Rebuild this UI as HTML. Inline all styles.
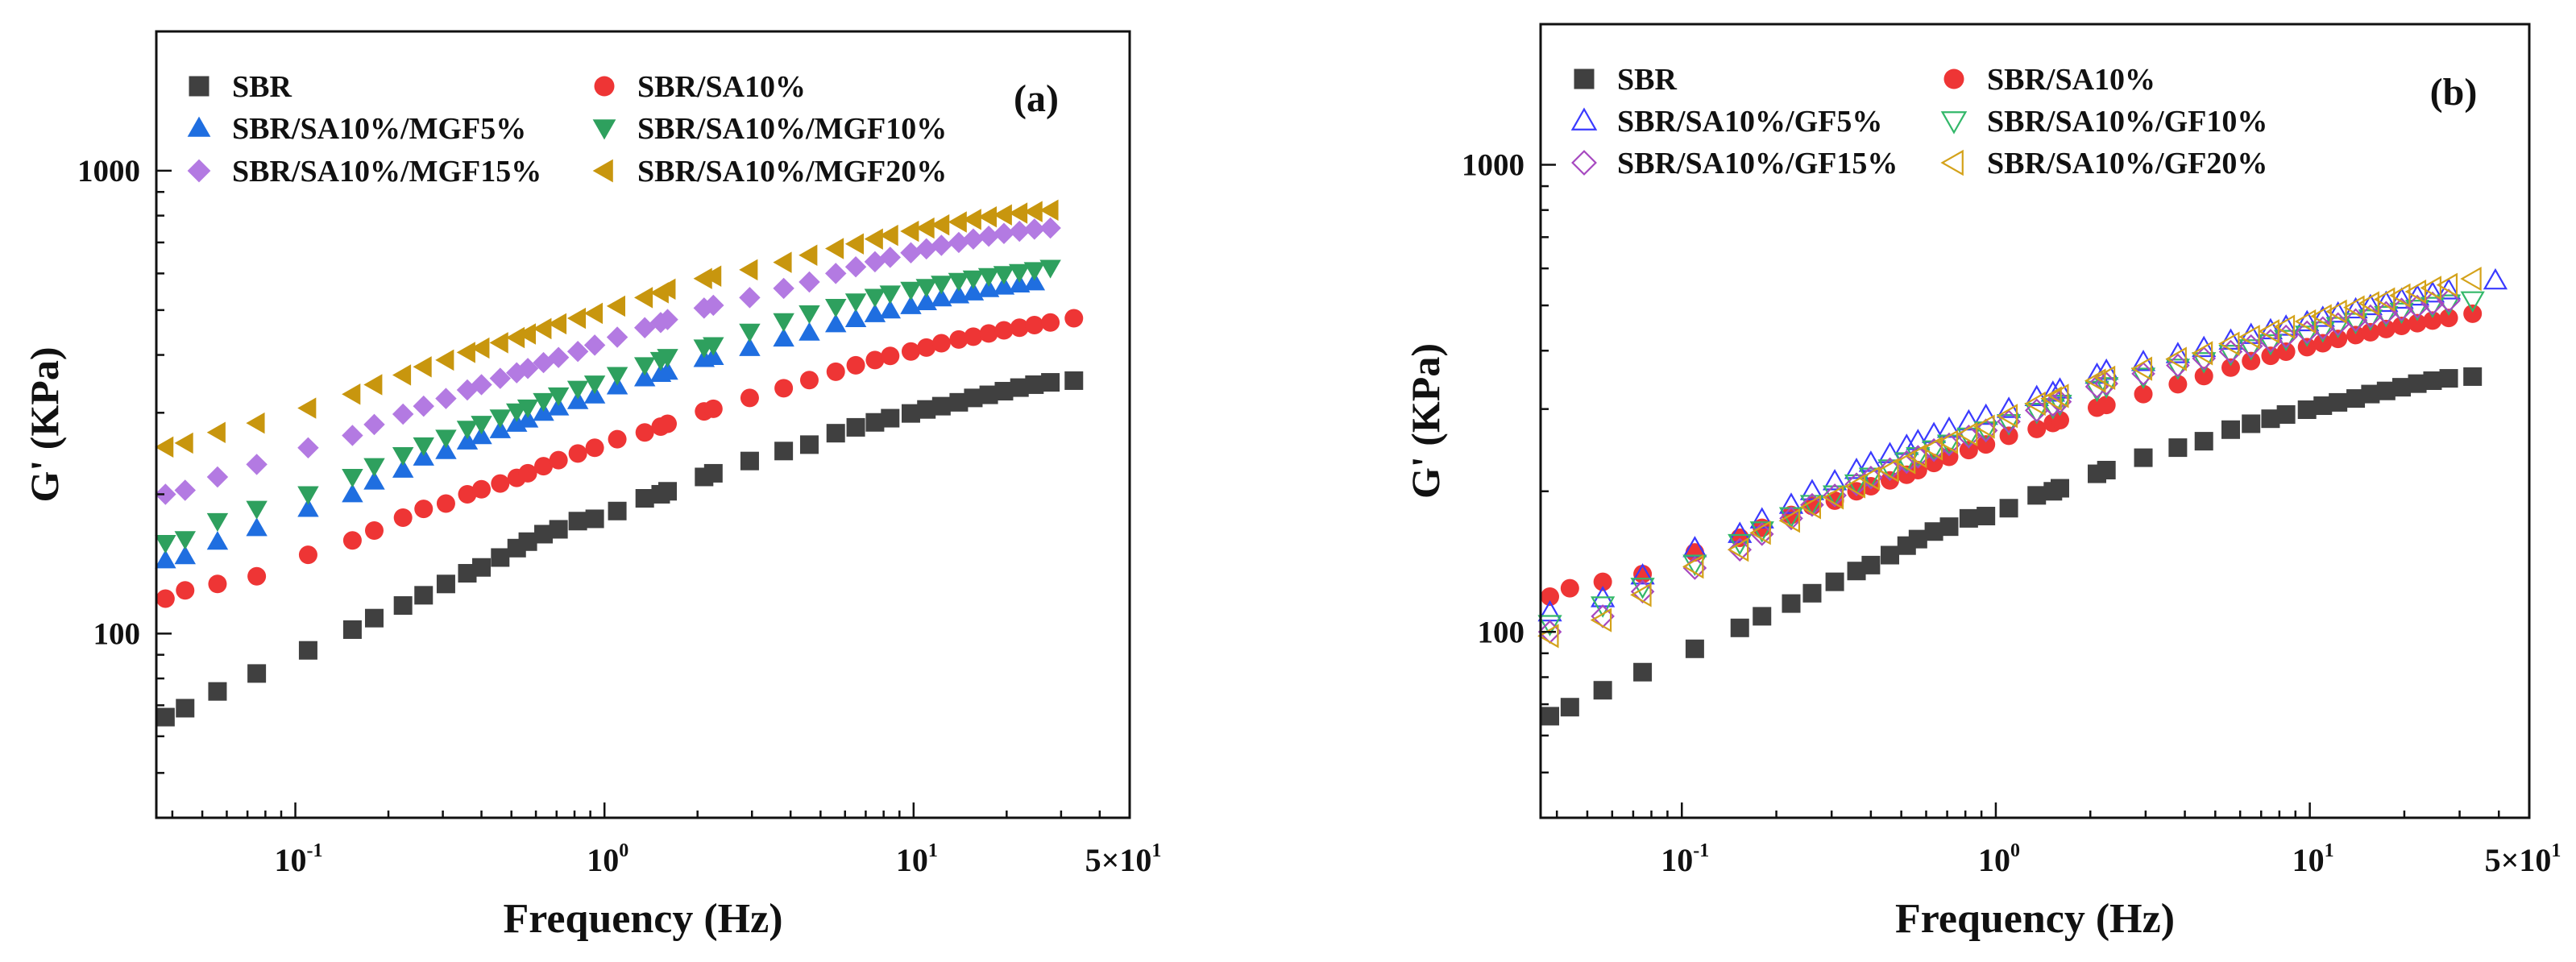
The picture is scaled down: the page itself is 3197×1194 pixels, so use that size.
<!DOCTYPE html>
<html>
<head>
<meta charset="utf-8">
<style>
  html,body{margin:0;padding:0;background:#fff;}
  svg{display:block;font-family:"Liberation Serif","Times New Roman",serif;font-weight:bold;}
</style>
</head>
<body>
<svg id="fig" width="3197" height="1194" viewBox="0 0 3197 1194" xmlns="http://www.w3.org/2000/svg">
  <rect width="3197" height="1194" fill="#fff"/>
  <g id="panelA"></g>
  <g id="panelB"></g>
</svg>
<script>
// ---- shared data ----
const freq = [0.038,0.044,0.056,0.075,0.11,0.153,0.18,0.223,0.26,0.307,0.36,0.40,0.46,0.52,0.565,0.635,0.71,0.82,0.93,1.1,1.35,1.52,1.6,2.1,2.25,2.95,3.8,4.6,5.6,6.5,7.5,8.4,9.8,11,12.3,14,15.6,17.5,19.6,22,24.6,27.7,33,39];
const xTickValues = [0.1,1,10,50];
const xTickBase = ["10","10","10","5×10"];
const xTickExp = ["-1","0","1","1"];
const yTickValues = [100,1000];
const yTickLabels = ["100","1000"];

const sbr = [66,69,75,82,92,102,108,115,121,128,135,139,146,153,158,164,168,175,177,184,196,200,203,218,222,236,248,256,271,279,286,292,299,305,310,316,323,328,334,340,345,349,352,null];
const sa10 = [119,124,128,133,148,159,167,178,186,191,200,205,211,217,222,230,237,245,252,263,272,280,284,302,306,323,339,353,368,380,390,398,407,415,424,432,438,445,452,458,464,470,480,null];
// panel (a)
const mgf5 = [144,147,158,169,186,200,213,226,240,248,260,267,275,284,290,300,308,318,327,342,356,364,368,392,396,414,434,447,466,478,490,499,510,520,530,538,546,555,562,568,574,null,null,null];
const mgf10 = [157,160,175,186,200,218,230,243,255,265,277,284,293,302,308,318,327,338,347,362,380,390,396,415,420,449,473,492,508,522,534,543,553,561,570,578,585,592,598,604,610,617,null,null];
const mgf15 = [200,204,218,232,252,268,283,298,310,322,336,345,356,366,374,385,395,407,420,437,458,470,477,505,512,532,557,575,600,620,636,650,665,678,690,700,712,722,732,740,748,752,null,null];
const mgf20 = [253,258,272,285,307,329,345,362,377,390,405,414,425,436,444,456,467,480,492,510,532,545,555,585,592,611,634,657,679,695,712,725,740,752,764,775,785,795,803,810,816,822,null,null];
// panel (b)
const gf5 = [110,null,118,132,151,162,174,187,200,210,222,230,240,250,256,265,272,282,290,300,318,325,330,355,362,378,393,405,420,432,442,450,460,470,480,490,498,506,514,522,530,538,null,565];
const gf10 = [104,null,114,125,140,155,165,177,188,197,208,215,224,232,238,246,253,262,270,280,296,303,308,330,336,352,368,380,394,405,415,424,433,442,452,461,469,477,485,492,499,505,513,null];
const gf15 = [100,null,108,122,137,150,162,175,187,196,207,214,223,231,237,245,252,262,270,282,298,306,311,335,340,357,372,385,398,409,420,429,438,447,456,465,474,482,490,497,505,512,null,null];
const gf20 = [98,null,106,120,138,150,163,173,185,194,205,213,222,231,238,247,255,265,275,290,308,316,320,345,350,366,384,395,414,428,440,450,462,474,485,495,505,515,525,535,545,553,570,null];

const NS = "http://www.w3.org/2000/svg";
function mk(tag, attrs, parent){
  const e = document.createElementNS(NS, tag);
  for (const k in attrs) e.setAttribute(k, attrs[k]);
  parent.appendChild(e);
  return e;
}
const XMIN = 0.0355, XMAX = 50, YMIN = 40, YMAX = 2000;

function marker(g, shape, cx, cy, s, fill, stroke, name){
  let el;
  const h = s/2;
  const sw = fill === "none" ? 2.2 : 0;
  const st = fill === "none" ? stroke : "none";
  if (shape === "square") {
    el = mk("rect", {x:cx-h, y:cy-h, width:s, height:s, fill:fill, stroke:st, "stroke-width":sw}, g);
  } else if (shape === "circle") {
    el = mk("circle", {cx:cx, cy:cy, r:h, fill:fill, stroke:st, "stroke-width":sw}, g);
  } else {
    let pts;
    const a = h*1.15;
    if (shape === "up") pts = [[cx,cy-a],[cx+a,cy+a*0.75],[cx-a,cy+a*0.75]];
    else if (shape === "down") pts = [[cx,cy+a],[cx+a,cy-a*0.75],[cx-a,cy-a*0.75]];
    else if (shape === "diamond") pts = [[cx,cy-a],[cx+a,cy],[cx,cy+a],[cx-a,cy]];
    else pts = [[cx-a,cy],[cx+a*0.75,cy-a],[cx+a*0.75,cy+a]];
    el = mk("polygon", {points: pts.map(p=>p.join(",")).join(" "), fill:fill, stroke:st, "stroke-width":sw, "stroke-linejoin":"miter"}, g);
  }
  
  
  return el;
}

function drawPanel(g, cfg){
  const L=cfg.L, R=cfg.R, T=cfg.T, B=cfg.B;
  const lx0 = Math.log10(XMIN), lx1 = Math.log10(XMAX);
  const ly0 = Math.log10(YMIN), ly1 = Math.log10(YMAX);
  const xs = v => L + (Math.log10(v)-lx0)/(lx1-lx0)*(R-L);
  const ys = v => B - (Math.log10(v)-ly0)/(ly1-ly0)*(B-T);

  cfg.series.forEach(s => {
    const sg = mk("g", {}, g);
    
    
    s.values.forEach((v,i) => {
      if (v === null) return;
      marker(sg, s.shape, xs(freq[i]), ys(v), 23, s.fill, s.stroke, 'point-' + s.id);
    });
  });

  const frame = mk("rect", {x:L, y:T, width:R-L, height:B-T, fill:"none", stroke:"#111", "stroke-width":3}, g);
  
  

  const xt = mk("g", {}, g);
  
  
  for (let d=-2; d<=1; d++){
    for (let m=1; m<=9; m++){
      const v = m*Math.pow(10,d);
      if (v < XMIN || v > XMAX) continue;
      const x = xs(v);
      const len = m===1 ? 19 : 9;
      mk("line", {x1:x, y1:B, x2:x, y2:B-len, stroke:"#111", "stroke-width":2.5}, xt);
    }
  }
  const yt = mk("g", {}, g);
  
  
  for (let d=1; d<=3; d++){
    for (let m=1; m<=9; m++){
      const v = m*Math.pow(10,d);
      if (v < YMIN || v > YMAX) continue;
      const y = ys(v);
      const len = m===1 ? 19 : 10;
      mk("line", {x1:L, y1:y, x2:L+len, y2:y, stroke:"#111", "stroke-width":2.5}, yt);
    }
  }
  xTickValues.forEach((v,i) => {
    const t = mk("text", {x:xs(v)+(i===3?-8:4), y:B+66, "text-anchor":"middle", "font-size":40, fill:"#111"}, g);
    
    
    t.textContent = xTickBase[i];
    const sp = mk("tspan", {"font-size":24, dy:-18}, t);
    sp.textContent = xTickExp[i];
  });
  yTickValues.forEach((v,i) => {
    const t = mk("text", {x:L-20, y:ys(v)+13, "text-anchor":"end", "font-size":39, fill:"#111"}, g);
    
    
    t.textContent = yTickLabels[i];
  });
  const xtl = mk("text", {x:(L+R)/2, y:1157, "text-anchor":"middle", "font-size":52, fill:"#111"}, g);
  
  
  xtl.textContent = "Frequency (Hz)";
  const ytl = mk("text", {x:0, y:0, "text-anchor":"middle", "font-size":50, fill:"#111", transform:`translate(${cfg.ytx},${(T+B)/2}) rotate(-90)`}, g);
  
  
  ytl.textContent = "G' (KPa)";

  const pl = mk("text", {x:cfg.plx, y:cfg.ply, "text-anchor":"middle", "font-size":48, fill:"#111"}, g);
  
  
  pl.textContent = cfg.label;

  const lg = mk("g", {}, g);
  
  
  cfg.series.forEach((s,i) => {
    const col = i % 2, row = Math.floor(i/2);
    const mx = cfg.legX[col], cy = cfg.legY[row];
    const eg = mk("g", {}, lg);
    
    
    marker(eg, s.shape, mx, cy, 25, s.fill, s.stroke, 'legend-marker');
    const t = mk("text", {x:mx+41, y:cy+13, "font-size":38, fill:"#111"}, eg);
    
    
    t.textContent = s.label;
  });
}

drawPanel(document.getElementById("panelA"), {
  L:194, R:1402, T:39, B:1015, ytx:72, plx:1286, ply:138, label:"(a)",
  legX:[247,750], legY:[107,159,212],
  series:[
    {id:"sbr", label:"SBR", shape:"square", fill:"#404040", stroke:"#404040", values:sbr},
    {id:"sa10", label:"SBR/SA10%", shape:"circle", fill:"#ee3535", stroke:"#ee3535", values:sa10},
    {id:"mgf5", label:"SBR/SA10%/MGF5%", shape:"up", fill:"#1f6ee0", stroke:"#1f6ee0", values:mgf5},
    {id:"mgf10", label:"SBR/SA10%/MGF10%", shape:"down", fill:"#2ea05e", stroke:"#2ea05e", values:mgf10},
    {id:"mgf15", label:"SBR/SA10%/MGF15%", shape:"diamond", fill:"#b37ae2", stroke:"#b37ae2", values:mgf15},
    {id:"mgf20", label:"SBR/SA10%/MGF20%", shape:"left", fill:"#c8960e", stroke:"#c8960e", values:mgf20}
  ]
});
drawPanel(document.getElementById("panelB"), {
  L:1912, R:3139, T:30, B:1015, ytx:1786, plx:3045, ply:130, label:"(b)",
  legX:[1966,2425], legY:[98,150,202],
  series:[
    {id:"sbr-b", label:"SBR", shape:"square", fill:"#404040", stroke:"#404040", values:sbr},
    {id:"sa10-b", label:"SBR/SA10%", shape:"circle", fill:"#ee3535", stroke:"#ee3535", values:sa10},
    {id:"gf5", label:"SBR/SA10%/GF5%", shape:"up", fill:"none", stroke:"#3a3aff", values:gf5},
    {id:"gf10", label:"SBR/SA10%/GF10%", shape:"down", fill:"none", stroke:"#33b86a", values:gf10},
    {id:"gf15", label:"SBR/SA10%/GF15%", shape:"diamond", fill:"none", stroke:"#a648c0", values:gf15},
    {id:"gf20", label:"SBR/SA10%/GF20%", shape:"left", fill:"none", stroke:"#d4a21a", values:gf20}
  ]
});
</script>
</body>
</html>
